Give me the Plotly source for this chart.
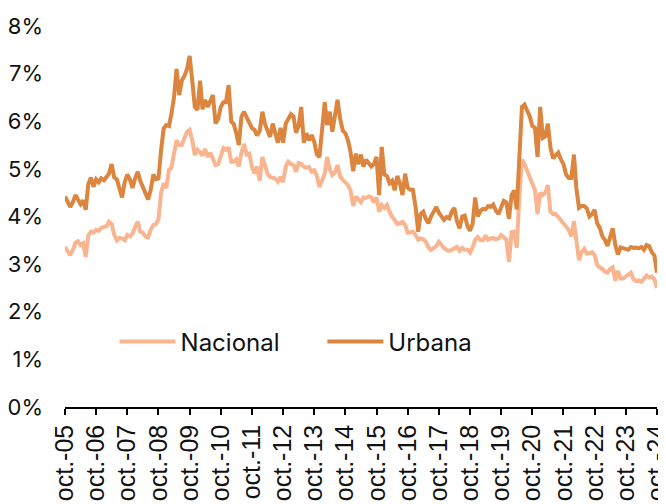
import pandas as pd
import plotly.graph_objects as go

start_month = "2005-10-01"
tick_labels = ["oct.-05", "oct.-06", "oct.-07", "oct.-08", "oct.-09", "oct.-10", "oct.-11",
               "oct.-12", "oct.-13", "oct.-14", "oct.-15", "oct.-16", "oct.-17", "oct.-18",
               "oct.-19", "oct.-20", "oct.-21", "oct.-22", "oct.-23", "oct.-24"]

nacional = [
    3.36, 3.25, 3.19, 3.30, 3.45, 3.48, 3.40, 3.44, 3.15, 3.60, 3.68, 3.66,
    3.72, 3.70, 3.76, 3.78, 3.80, 3.89, 3.84, 3.62, 3.50, 3.55, 3.54, 3.50,
    3.61, 3.58, 3.64, 3.78, 3.89, 3.68, 3.66, 3.58, 3.56, 3.72, 3.82, 3.84,
    3.95, 4.50, 4.70, 4.60, 4.98, 5.02, 5.30, 5.60, 5.50, 5.50, 5.65, 5.78,
    5.82, 5.60, 5.29, 5.40, 5.35, 5.28, 5.42, 5.25, 5.34, 5.22, 5.08, 5.10,
    5.29, 5.44, 5.40, 5.45, 5.15, 5.15, 5.20, 5.05, 5.34, 5.52, 5.30, 5.32,
    5.05, 4.90, 5.05, 4.75, 5.25, 5.05, 4.90, 4.83, 4.82, 4.80, 4.73, 4.83,
    4.72, 5.05, 5.15, 5.10, 5.08, 4.94, 5.12, 5.10, 5.05, 5.02, 5.04, 4.94,
    4.97, 4.85, 4.62, 4.77, 4.90, 5.25, 5.00, 4.87, 4.92, 5.08, 4.84, 4.77,
    4.72, 4.66, 4.55, 4.22, 4.42, 4.35, 4.30, 4.40, 4.39, 4.42, 4.40, 4.30,
    4.40, 4.10, 4.24, 4.18, 4.24, 4.10, 3.99, 3.93, 3.84, 3.86, 3.89, 3.82,
    3.66, 3.67, 3.68, 3.61, 3.51, 3.54, 3.52, 3.47, 3.35, 3.30, 3.34, 3.38,
    3.47, 3.40, 3.34, 3.30, 3.28, 3.30, 3.34, 3.36, 3.28, 3.34, 3.30, 3.30,
    3.24, 3.35, 3.51, 3.57, 3.50, 3.50, 3.60, 3.51, 3.54, 3.55, 3.52, 3.54,
    3.61, 3.55, 3.52, 3.05, 3.67, 3.68, 3.34, 4.40, 5.20, 5.10, 4.95, 4.85,
    4.65, 4.55, 4.05, 4.50, 4.45, 4.50, 4.66, 4.10, 4.05, 4.05, 3.99, 3.92,
    3.85, 3.80, 3.72, 3.58, 3.90, 3.50, 3.08, 3.25, 3.32, 3.22, 3.24, 3.25,
    3.19, 2.98, 2.93, 2.90, 2.84, 2.82, 2.90, 2.93, 2.65, 2.86, 2.70, 2.70,
    2.74, 2.78, 2.82, 2.68, 2.64, 2.66, 2.63, 2.69, 2.76, 2.72, 2.74, 2.68,
    2.50,
]

urbana = [
    4.42, 4.28, 4.20, 4.30, 4.45, 4.36, 4.26, 4.34, 4.14, 4.68, 4.82, 4.62,
    4.78, 4.72, 4.80, 4.76, 4.85, 4.90, 5.10, 4.82, 4.78, 4.60, 4.40, 4.72,
    4.88, 4.78, 4.60, 4.80, 4.94, 4.75, 4.62, 4.50, 4.36, 4.55, 4.88, 4.78,
    4.80, 5.40, 5.85, 5.92, 5.90, 6.15, 6.50, 7.10, 6.55, 6.85, 6.95, 7.10,
    7.37, 6.85, 6.30, 6.24, 6.85, 6.25, 6.45, 6.30, 6.45, 6.55, 5.95, 6.05,
    6.30, 6.40, 6.40, 6.76, 5.99, 5.95, 5.75, 5.50, 6.10, 6.20, 6.08, 5.95,
    5.86, 5.82, 5.70, 5.80, 6.20, 5.95, 5.80, 5.67, 5.95, 5.71, 5.55, 5.86,
    5.55, 5.95, 6.07, 6.15, 6.10, 5.76, 5.90, 6.30, 5.55, 5.75, 5.60, 5.71,
    5.57, 5.30, 5.25, 5.95, 6.40, 5.92, 6.20, 5.78, 6.20, 6.45, 6.05, 5.80,
    5.75, 5.60, 5.35, 4.95, 5.32, 5.10, 5.30, 5.05, 5.19, 5.13, 5.05, 5.10,
    5.25, 4.45, 5.46, 4.88, 4.85, 4.70, 4.75, 4.55, 4.85, 4.70, 4.45, 4.90,
    4.60, 4.56, 4.56, 4.20, 3.68, 4.05, 4.10, 3.95, 3.86, 4.00, 4.10, 4.20,
    4.08, 4.00, 3.93, 3.99, 3.96, 4.10, 4.18, 3.90, 3.75, 4.00, 4.02, 3.80,
    3.70, 3.85, 4.40, 4.00, 4.12, 4.16, 4.15, 4.22, 4.20, 4.25, 4.12, 4.05,
    4.18, 4.33, 4.30, 3.95, 4.45, 4.55, 4.15, 5.35, 6.30, 6.35, 6.22, 6.10,
    5.90, 5.86, 5.25, 6.30, 5.65, 5.68, 5.95, 5.45, 5.22, 5.28, 5.34, 5.20,
    5.10, 4.88, 4.81, 4.81, 5.30, 4.60, 4.18, 4.22, 4.22, 4.17, 4.00, 4.05,
    4.14, 3.85, 3.76, 3.58, 3.50, 3.38, 3.60, 3.75, 3.40, 3.20, 3.35, 3.34,
    3.33, 3.30, 3.36, 3.34, 3.35, 3.33, 3.36, 3.30, 3.40, 3.38, 3.25, 3.18,
    2.82,
]

months = pd.date_range(start_month, periods=len(urbana), freq="MS")
tick_vals = pd.date_range(start_month, periods=len(tick_labels), freq="12MS")

fig = go.Figure()
fig.add_trace(go.Scatter(x=months, y=[v / 100 for v in nacional], name="Nacional",
                         mode="lines", line=dict(color="#F9B590", width=4),
                         legend="legend"))
fig.add_trace(go.Scatter(x=months, y=[v / 100 for v in urbana], name="Urbana",
                         mode="lines", line=dict(color="#DC853F", width=4),
                         legend="legend2"))

legend_style = dict(orientation="h", yanchor="middle", xanchor="left",
                    font=dict(family="Inter", size=24, color="#111111"),
                    itemwidth=56, bgcolor="rgba(0,0,0,0)", borderwidth=0)

# page body has an 8px default margin, so the figure is sized 8px smaller
fig.update_layout(
    width=658, height=496,
    margin=dict(l=57, r=9, t=18, b=97),
    paper_bgcolor="white", plot_bgcolor="white",
    showlegend=True,
    legend=dict(x=0.0837, y=0.171, **legend_style),
    legend2=dict(x=0.4347, y=0.171, **legend_style),
)
fig.update_xaxes(
    type="date", range=[months[0], months[-1] + pd.Timedelta(hours=12)],
    tickvals=tick_vals, ticktext=tick_labels, tickangle=-90,
    ticklabeloverflow="allow",
    showgrid=False, zeroline=False, automargin=False,
    showline=True, linecolor="#000000", linewidth=1.5,
    ticks="outside", ticklen=6, tickwidth=1.5, tickcolor="#000000",
    tickfont=dict(family="Liberation Sans", size=25, color="#111111"),
)
fig.update_yaxes(
    range=[0, 0.08], tickvals=[0, 0.01, 0.02, 0.03, 0.04, 0.05, 0.06, 0.07, 0.08],
    tickformat=".0%", showgrid=False, zeroline=False, showline=False,
    ticks="", ticklabelstandoff=21, automargin=False,
    tickfont=dict(family="Inter", size=22, color="#111111"),
)

fig.write_html("out.html")
